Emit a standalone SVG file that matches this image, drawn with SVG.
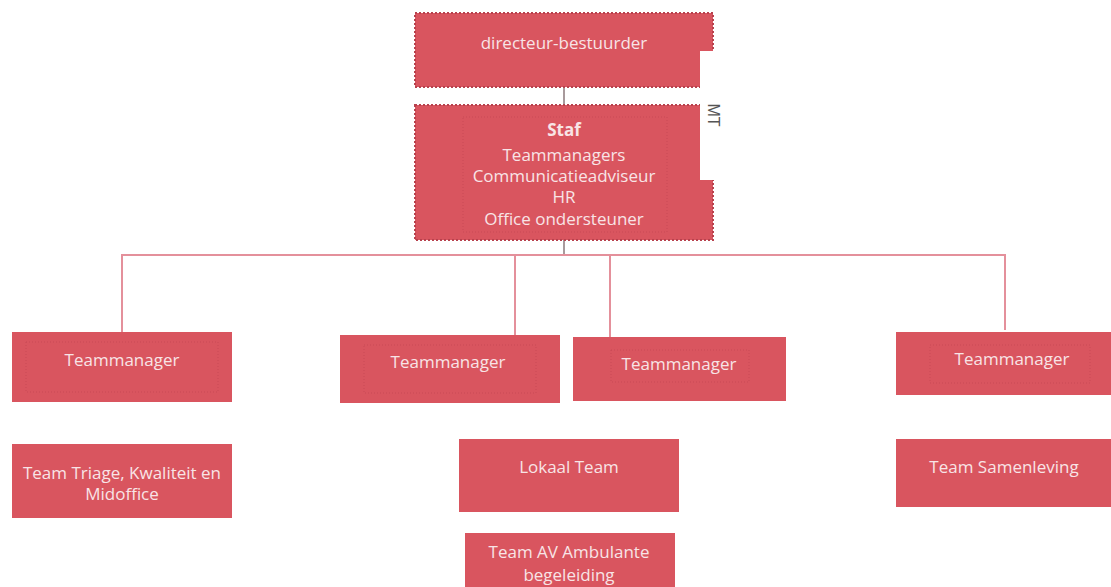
<svg xmlns="http://www.w3.org/2000/svg" width="1111" height="587" viewBox="0 0 1111 587">
<style>
.box{fill:#d9555f;}
.top{stroke:#b8414d;stroke-width:2;stroke-dasharray:2 2;}
.inner{fill:none;stroke:#c94a56;stroke-width:1;stroke-dasharray:1 2;}
.t{font-family:"Open Sans","Liberation Sans",sans-serif;font-size:17px;fill:#f8e4e6;text-anchor:middle;}
.b{font-weight:bold;}
.ln{stroke:#e4909b;stroke-width:2;fill:none;}
.g{stroke:#a89a9c;stroke-width:2;fill:none;}
</style>
<g id="connectors">
<line class="g" x1="564" y1="87" x2="564" y2="105"/>
<line class="g" x1="564" y1="240" x2="564" y2="255"/>
<polyline class="ln" points="122,332 122,255 1005,255 1005,330"/>
<line class="ln" x1="515" y1="255" x2="515" y2="335"/>
<line class="ln" x1="610" y1="255" x2="610" y2="337"/>
</g>
<g id="directeur">
<rect class="box top" x="415" y="13" width="298" height="74"/>
<text class="t" x="564" y="49">directeur-bestuurder</text>
</g>
<g id="staf">
<rect class="box top" x="415" y="105" width="298" height="135"/>
<rect class="inner" x="463" y="117" width="204" height="115"/>
<text class="t b" x="564" y="136">Staf</text>
<text class="t" x="564" y="161">Teammanagers</text>
<text class="t" x="564" y="182">Communicatieadviseur</text>
<text class="t" x="564" y="203">HR</text>
<text class="t" x="564" y="225">Office ondersteuner</text>
</g>
<g id="mt">
<rect x="700" y="51" width="46" height="129" fill="#ffffff"/>
<text x="708" y="115" font-family="Liberation Sans, Arial, sans-serif" font-size="16" fill="#555555" text-anchor="middle" transform="rotate(90 708 115)">MT</text>
</g>
<g id="tm1">
<rect class="box" x="12" y="332" width="220" height="70"/>
<rect class="inner" x="26" y="342" width="192" height="50"/>
<text class="t" x="122" y="366">Teammanager</text>
</g>
<g id="tm2">
<rect class="box" x="340" y="335" width="220" height="68"/>
<rect class="inner" x="364" y="345" width="172" height="48"/>
<text class="t" x="448" y="368">Teammanager</text>
</g>
<g id="tm3">
<rect class="box" x="573" y="337" width="213" height="64"/>
<rect class="inner" x="611" y="350" width="138" height="32"/>
<text class="t" x="679" y="370">Teammanager</text>
</g>
<g id="tm4">
<rect class="box" x="896" y="332" width="215" height="63"/>
<rect class="inner" x="930" y="345" width="160" height="38"/>
<text class="t" x="1012" y="365">Teammanager</text>
</g>
<g id="triage">
<rect class="box" x="12" y="444" width="220" height="74"/>
<text class="t" x="122" y="479">Team Triage, Kwaliteit en</text>
<text class="t" x="122" y="500">Midoffice</text>
</g>
<g id="lokaal">
<rect class="box" x="459" y="439" width="220" height="73"/>
<text class="t" x="569" y="473">Lokaal Team</text>
</g>
<g id="av">
<rect class="box" x="465" y="533" width="210" height="60"/>
<text class="t" x="569" y="558">Team AV Ambulante</text>
<text class="t" x="569" y="581">begeleiding</text>
</g>
<g id="samenleving">
<rect class="box" x="896" y="439" width="215" height="68"/>
<text class="t" x="1004" y="473">Team Samenleving</text>
</g>
</svg>
